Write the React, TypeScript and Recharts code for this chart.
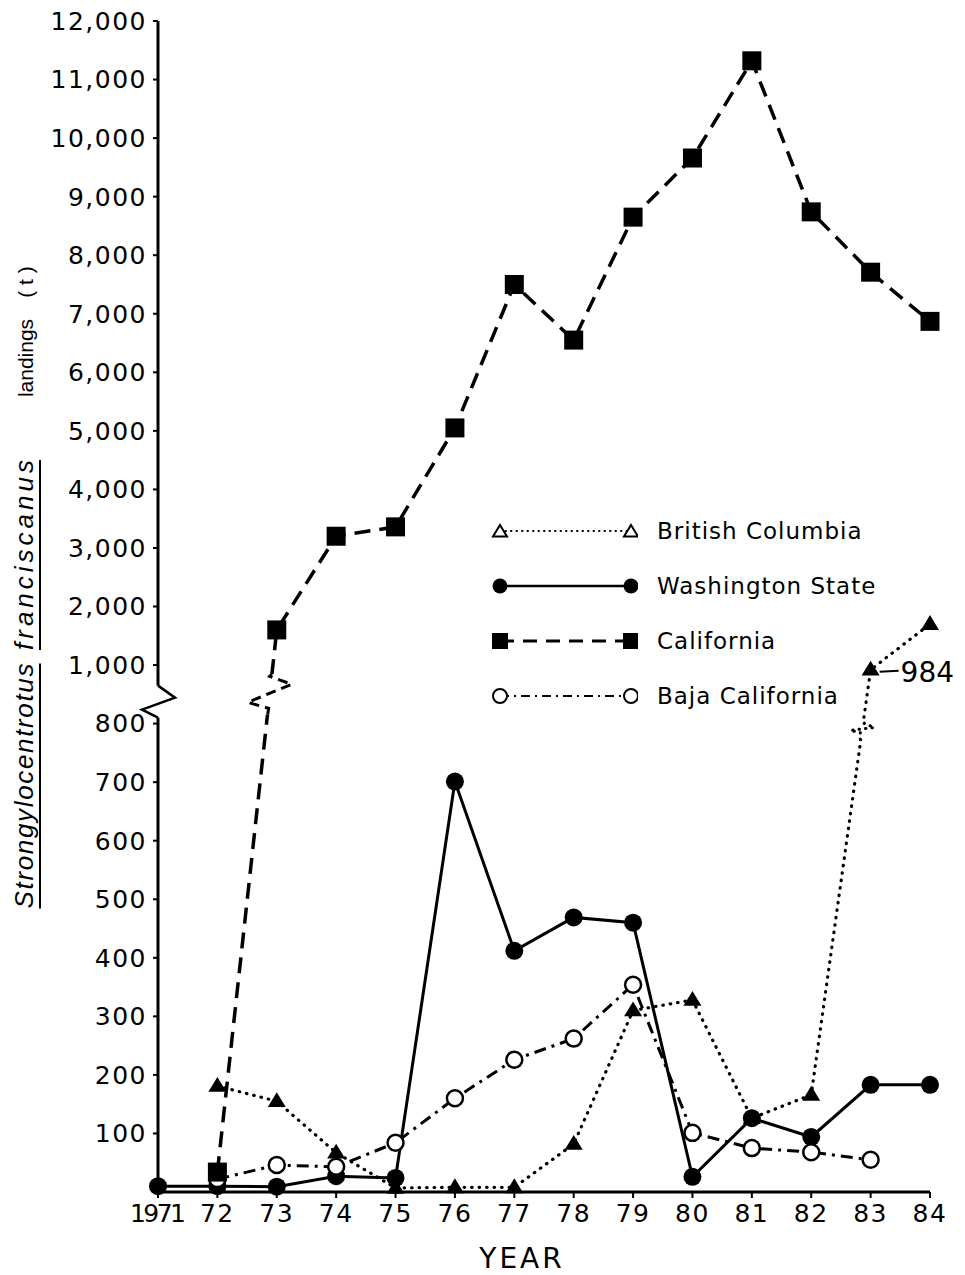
import React from 'react';
import { LineChart, Line, XAxis, YAxis, Legend, ReferenceDot } from 'recharts';

// years on the x axis and their printed labels
const YEARS = [1971, 1972, 1973, 1974, 1975, 1976, 1977, 1978, 1979, 1980, 1981, 1982, 1983, 1984];
const YEAR_LABELS = ['1971', '72', '73', '74', '75', '76', '77', '78', '79', '80', '81', '82', '83', '84'];

// landings in tonnes
const BRITISH_COLUMBIA = [null, 181, 155, 67, 7, 8, 8, 82, 310, 328, 126, 166, 984, 1700];
const WASHINGTON = [10, 10, 9, 27, 24, 701, 412, 469, 460, 26, 126, 94, 183, 183];
const CALIFORNIA = [null, 34, 1600, 3200, 3360, 5050, 7500, 6550, 8650, 9660, 11320, 8740, 7710, 6870];
const BAJA = [null, 22, 46, 43, 84, 160, 226, 262, 354, 101, 75, 68, 55, null];

const LOW_TICKS = [100, 200, 300, 400, 500, 600, 700, 800];
const HIGH_TICKS = [1000, 2000, 3000, 4000, 5000, 6000, 7000, 8000, 9000, 10000, 11000, 12000];

// broken axis: 0-800 on one scale, 1000-12000 compressed above it
const LOW_MAX = 800;
const HIGH_MIN = 1000;
const GAP = 100;
const K = 0.1;

const toAxis = (v: number | null) => {
  if (v == null) return null;
  if (v <= LOW_MAX) return v;
  if (v < HIGH_MIN) return LOW_MAX + ((v - LOW_MAX) / (HIGH_MIN - LOW_MAX)) * GAP;
  return LOW_MAX + GAP + (v - HIGH_MIN) * K;
};

const fromAxis = (t: number) => {
  if (t <= LOW_MAX) return Math.round(t);
  if (t < LOW_MAX + GAP) return Math.round(LOW_MAX + ((t - LOW_MAX) / GAP) * (HIGH_MIN - LOW_MAX));
  return Math.round(HIGH_MIN + (t - LOW_MAX - GAP) / K);
};

const fmt = (t: number) => fromAxis(t).toLocaleString('en-US');

const data = YEARS.map((year, i) => ({
  year,
  bc: toAxis(BRITISH_COLUMBIA[i]),
  wa: toAxis(WASHINGTON[i]),
  ca: toAxis(CALIFORNIA[i]),
  baja: toAxis(BAJA[i]),
}));

// where a segment i -> i+1 crosses a given axis level (for the break marks)
const crossYear = (values: (number | null)[], i: number, level: number) => {
  const a = toAxis(values[i]) as number;
  const b = toAxis(values[i + 1]) as number;
  return YEARS[i] + (level - a) / (b - a);
};

const FONT = '"DejaVu Sans", sans-serif';

const triPath = (cx: number, cy: number, s = 9) =>
  `M${cx},${cy - s} L${cx + s},${cy + s * 0.65} L${cx - s},${cy + s * 0.65} Z`;

const noDot = (key: string) => <g key={key} />;

const BcDot = (p: any) => {
  const { cx, cy, index } = p;
  if (cx == null || cy == null || isNaN(cy)) return noDot(`bc-${index}`);
  return <path key={`bc-${index}`} d={triPath(cx, cy)} fill="#000" />;
};

const WaDot = (p: any) => {
  const { cx, cy, index } = p;
  if (cx == null || cy == null || isNaN(cy)) return noDot(`wa-${index}`);
  return <circle key={`wa-${index}`} cx={cx} cy={cy} r={9} fill="#000" />;
};

const CaDot = (p: any) => {
  const { cx, cy, index } = p;
  if (cx == null || cy == null || isNaN(cy)) return noDot(`ca-${index}`);
  return <rect key={`ca-${index}`} x={cx - 9.5} y={cy - 9.5} width={19} height={19} fill="#000" />;
};

const BajaDot = (p: any) => {
  const { cx, cy, index } = p;
  if (cx == null || cy == null || isNaN(cy)) return noDot(`bj-${index}`);
  return <circle key={`bj-${index}`} cx={cx} cy={cy} r={8} fill="#fff" stroke="#000" strokeWidth={2.5} />;
};

const AxisBreak = (p: any) => {
  const { cx, cy } = p;
  return (
    <g>
      <rect x={cx - 4} y={cy - 16} width={8} height={32} fill="#fff" />
      <path
        d={`M${cx},${cy - 16} L${cx + 17},${cy - 4} L${cx - 16},${cy + 8} L${cx},${cy + 16}`}
        stroke="#000"
        strokeWidth={2.5}
        fill="none"
      />
    </g>
  );
};

const CaBreak = (p: any) => {
  const { cx, cy } = p;
  return (
    <g>
      <rect x={cx - 26} y={cy - 20} width={52} height={40} fill="#fff" />
      <path
        d={`M${cx - 2},${cy + 20} L${cx - 1},${cy + 14} L${cx - 22},${cy + 8} L${cx + 22},${cy - 10} L${cx},${cy - 18} L${cx + 2},${cy - 20}`}
        stroke="#000"
        strokeWidth={3}
        strokeDasharray="10 6"
        fill="none"
      />
    </g>
  );
};

const BcBreak = (p: any) => {
  const { cx, cy } = p;
  return (
    <g>
      <rect x={cx - 14} y={cy - 10} width={28} height={20} fill="#fff" />
      <path
        d={`M${cx - 2},${cy + 10} L${cx - 2},${cy + 3} L${cx - 12},${cy + 1} L${cx + 12},${cy - 2} L${cx + 2},${cy - 6} L${cx + 2},${cy - 10}`}
        stroke="#000"
        strokeWidth={3}
        strokeDasharray="0.5 6"
        strokeLinecap="round"
        fill="none"
      />
    </g>
  );
};

const BcNote = (p: any) => {
  const { cx, cy } = p;
  return (
    <g>
      <line x1={cx + 9} y1={cy + 2} x2={cx + 28} y2={cy + 1} stroke="#000" strokeWidth={2} />
      <text x={cx + 30} y={cy + 12} fontFamily={FONT} fontSize={28} fill="#000">
        {BRITISH_COLUMBIA[12]}
      </text>
    </g>
  );
};

const Y_WORDS = [
  { text: 'Strongylocentrotus', center: 786, len: 245, italic: true, size: 26 },
  { text: 'franciscanus', center: 555, len: 190, italic: true, size: 26 },
  { text: 'landings', center: 358, len: 0, italic: false, size: 21 },
  { text: '( t )', center: 282, len: 0, italic: false, size: 21 },
];

const YLabel = () => (
  <g>
    {Y_WORDS.map((w) => (
      <g key={w.text}>
        <text
          x={33}
          y={w.center}
          transform={`rotate(-90 33 ${w.center})`}
          textAnchor="middle"
          textLength={w.len || undefined}
          lengthAdjust="spacing"
          fontFamily='"Liberation Sans", sans-serif'
          fontStyle={w.italic ? 'italic' : 'normal'}
          fontSize={w.size}
          fill="#000"
        >
          {w.text}
        </text>
        {w.italic && (
          <line x1={40} x2={40} y1={w.center - w.len / 2} y2={w.center + w.len / 2} stroke="#000" strokeWidth={2} />
        )}
      </g>
    ))}
  </g>
);

const XLabel = () => (
  <text x={522} y={1268} textAnchor="middle" fontFamily={FONT} fontSize={28} letterSpacing={3} fill="#000">
    YEAR
  </text>
);

const XTick = (p: any) => {
  const { x, y, payload } = p;
  const label = YEAR_LABELS[YEARS.indexOf(payload.value)];
  const long = label.length > 2;
  return (
    <text
      x={x}
      y={y}
      dy="0.71em"
      textAnchor="middle"
      fontFamily={FONT}
      fontSize={25}
      letterSpacing={long ? 0 : 1.5}
      fill="#000"
      textLength={long ? 56 : undefined}
      lengthAdjust="spacing"
    >
      {label}
    </text>
  );
};

const LEGEND_ROWS = [
  { name: 'British Columbia', dash: '0.5 5', width: 2, cap: 'round', marker: 'tri' },
  { name: 'Washington State', dash: undefined, width: 2.5, cap: 'butt', marker: 'dot' },
  { name: 'California', dash: '14 9', width: 3, cap: 'butt', marker: 'sq' },
  { name: 'Baja California', dash: '9 5 2 5', width: 2, cap: 'butt', marker: 'ring' },
];

const legendMarker = (kind: string, x: number, y: number) => {
  if (kind === 'tri') return <path d={triPath(x, y + 1, 7)} fill="#fff" stroke="#000" strokeWidth={2} />;
  if (kind === 'dot') return <circle cx={x} cy={y} r={7.5} fill="#000" />;
  if (kind === 'sq') return <rect x={x - 8} y={y - 8} width={16} height={16} fill="#000" />;
  return <circle cx={x} cy={y} r={7} fill="#fff" stroke="#000" strokeWidth={2} />;
};

const LegendBox = () => (
  <div style={{ fontFamily: FONT, fontSize: 23, color: '#000' }}>
    {LEGEND_ROWS.map((r) => (
      <div key={r.name} style={{ display: 'flex', alignItems: 'center', height: 55 }}>
        <svg width={150} height={30} style={{ marginRight: 19 }}>
          <line
            x1={12}
            x2={143}
            y1={15}
            y2={15}
            stroke="#000"
            strokeWidth={r.width}
            strokeDasharray={r.dash}
            strokeLinecap={r.cap as any}
          />
          {legendMarker(r.marker, 12, 15)}
          {legendMarker(r.marker, 143, 15)}
        </svg>
        <span style={{ lineHeight: '30px', letterSpacing: 1 }}>{r.name}</span>
      </div>
    ))}
  </div>
);

const tickStyle = { fill: '#000', fontSize: 25, fontFamily: FONT, letterSpacing: 1.5 };

export default function App() {
  const yTicks = [...LOW_TICKS, ...HIGH_TICKS].map((v) => toAxis(v) as number);
  return (
    <div style={{ position: 'absolute', left: 0, top: 0, width: 965, height: 1275, background: '#fff' }}>
      <LineChart width={965} height={1275} data={data} margin={{ top: 21, right: 35, left: 0, bottom: 0 }}>
        <XAxis
          dataKey="year"
          type="number"
          domain={[1971, 1984]}
          ticks={YEARS}
          height={83}
          tick={<XTick />}
          tickSize={6}
          tickMargin={6}
          axisLine={{ stroke: '#000', strokeWidth: 3 }}
          tickLine={{ stroke: '#000', strokeWidth: 2 }}
          label={<XLabel />}
        />
        <YAxis
          type="number"
          domain={[0, 2000]}
          ticks={yTicks}
          tickFormatter={fmt}
          width={158}
          tick={tickStyle}
          tickSize={5}
          tickMargin={6}
          axisLine={{ stroke: '#000', strokeWidth: 3 }}
          tickLine={{ stroke: '#000', strokeWidth: 2 }}
          label={<YLabel />}
        />
        <Legend
          content={<LegendBox />}
          layout="vertical"
          align="center"
          verticalAlign="middle"
          wrapperStyle={{ position: 'absolute', left: 488, top: 503, width: 460 }}
        />
        <Line
          dataKey="bc"
          stroke="#000"
          strokeWidth={3.2}
          strokeDasharray="0.5 7"
          strokeLinecap="round"
          dot={BcDot}
          activeDot={false}
          isAnimationActive={false}
        />
        <Line
          dataKey="wa"
          stroke="#000"
          strokeWidth={3}
          dot={WaDot}
          activeDot={false}
          isAnimationActive={false}
        />
        <Line
          dataKey="baja"
          stroke="#000"
          strokeWidth={3}
          strokeDasharray="12 6 3 6"
          dot={BajaDot}
          activeDot={false}
          isAnimationActive={false}
        />
        <Line
          dataKey="ca"
          stroke="#000"
          strokeWidth={3.5}
          strokeDasharray="16 9"
          dot={CaDot}
          activeDot={false}
          isAnimationActive={false}
        />
        <ReferenceDot x={1971} y={toAxis(875) as number} shape={AxisBreak} ifOverflow="visible" />
        <ReferenceDot x={crossYear(CALIFORNIA, 1, 850)} y={850} shape={CaBreak} ifOverflow="visible" />
        <ReferenceDot x={crossYear(BRITISH_COLUMBIA, 11, 790)} y={790} shape={BcBreak} ifOverflow="visible" />
        <ReferenceDot x={1983} y={toAxis(BRITISH_COLUMBIA[12]) as number} shape={BcNote} ifOverflow="visible" />
      </LineChart>
    </div>
  );
}
